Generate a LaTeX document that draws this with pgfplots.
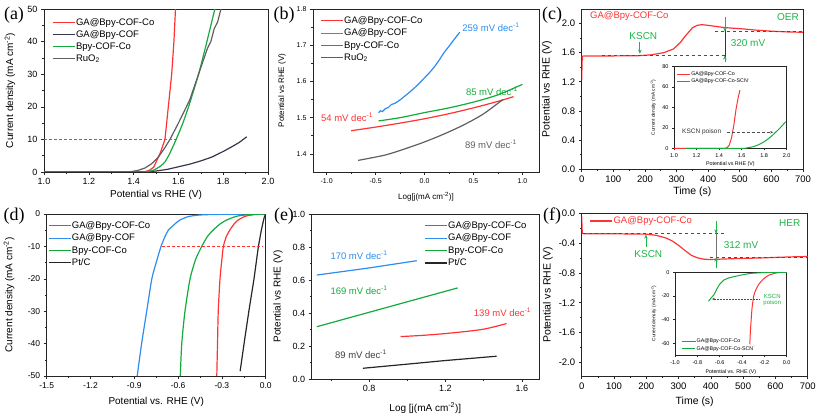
\documentclass[border=0pt]{standalone}
\usepackage{pgfplots}
\pgfplotsset{compat=1.18}
\usepackage{fontspec}
\setmainfont{Liberation Sans}
\newfontfamily\seriffont{Liberation Serif}
\usetikzlibrary{arrows.meta}
\definecolor{cred}{RGB}{255,51,51}
\definecolor{cblue}{RGB}{45,140,240}
\definecolor{cgreen}{RGB}{20,170,60}
\definecolor{cgray}{RGB}{95,95,95}
\definecolor{cnavy}{RGB}{55,55,75}
\definecolor{tgreen}{RGB}{30,180,70}
\newcommand{\fs}[1]{\fontsize{#1}{#1}\selectfont}
\pgfplotsset{
  base/.style={
    scale only axis, anchor=south west,
    axis line style={line width=0.6pt, black!85},
    tick align=outside, xtick pos=bottom, ytick pos=left,
    major tick length=3pt, minor tick length=1.8pt,
    every tick/.style={black!85, line width=0.6pt},
    /pgf/number format/assume math mode=true,
    legend cell align=left,
    legend image code/.code={\draw[mark repeat=2,mark phase=2,##1] plot coordinates {(0pt,0pt)(11pt,0pt)(22pt,0pt)};},
  },
  smallleg/.style={
    legend image code/.code={\draw[mark repeat=2,mark phase=2,##1] plot coordinates {(0pt,0pt)(6.5pt,0pt)(13pt,0pt)};},
  },
  leg/.style={legend style={draw=none, fill=none, inner sep=0pt, row sep=#1,
     nodes={inner sep=0.8pt}}},
  dec1/.style={/pgf/number format/.cd, fixed, fixed zerofill, precision=1},
  dec0/.style={/pgf/number format/.cd, fixed, precision=0},
}
\begin{document}
\begin{tikzpicture}
\useasboundingbox (0,0) rectangle (817pt,418pt);

% ---------------- (a)
\begin{axis}[base, at={(44pt,246pt)}, width=224pt, height=163pt,
  xmin=1, xmax=2, ymin=0, ymax=50,
  xtick={1.0,1.2,1.4,1.6,1.8,2.0}, minor x tick num=1,
  ytick={0,10,20,30,40,50}, minor y tick num=1,
  xticklabel style={font=\fs{9}, dec1}, yticklabel style={font=\fs{9}, dec0},
  xlabel={Potential vs RHE (V)}, ylabel={Current density (mA cm\textsuperscript{-2})},
  xlabel style={at={(axis description cs:0.5,-0.141)}, anchor=center, font=\fs{10}},
  ylabel style={at={(axis description cs:-0.152,0.5)}, anchor=center, font=\fs{10}},
  leg=2.3pt, legend style={at={(axis description cs:0.035,0.95)}, anchor=north west, font=\fs{9.5}}]
\addplot[cred, line width=1.2pt] coordinates {(1.0,0)(1.40,0)(1.45,0.1)(1.47,0.5)(1.49,1.5)(1.50,3)(1.52,6)(1.54,10)(1.555,20)(1.57,30)(1.58,40)(1.587,50)};
\addlegendentry{GA@Bpy-COF-Co}
\addplot[cnavy, line width=1.2pt] coordinates {(1.0,0)(1.45,0)(1.50,0.3)(1.55,0.8)(1.60,1.6)(1.65,2.4)(1.70,3.4)(1.75,4.6)(1.80,6.3)(1.84,7.8)(1.87,9)(1.905,10.8)};
\addlegendentry{GA@Bpy-COF}
\addplot[cgreen, line width=1.2pt, smooth, tension=0.4] coordinates {(1.0,0)(1.40,0)(1.46,0.1)(1.49,0.6)(1.52,1.8)(1.54,3.1)(1.56,5.5)(1.59,10)(1.62,15)(1.65,21)(1.69,30)(1.72,38)(1.745,45)(1.763,50)};
\addlegendentry{Bpy-COF-Co}
\addplot[cgray, line width=1.2pt] coordinates {(1.0,0)(1.38,0)(1.42,0.5)(1.45,1.2)(1.48,2.5)(1.51,4.5)(1.54,7.5)(1.5625,10)(1.60,15)(1.65,22)(1.69,30)(1.73,38)(1.745,40)(1.76,44)(1.775,46)(1.79,50)};
\addlegendentry{RuO\textsubscript{2}}
\addplot[cred, densely dashed, line width=0.8pt, forget plot] coordinates {(1.0,10)(1.592,10)};
\end{axis}

% ---------------- (b)
\begin{axis}[base, at={(313pt,246pt)}, width=226pt, height=163pt,
  xmin=-1.14, xmax=1.17, ymin=1.35, ymax=1.8,
  xtick={-1,-0.5,0,0.5,1}, minor x tick num=1,
  ytick={1.4,1.5,1.6,1.7,1.8}, minor y tick num=1,
  xticklabel style={font=\fs{7}, dec1}, yticklabel style={font=\fs{7}, dec1},
  xlabel={Log[j(mA cm\textsuperscript{-2})]}, ylabel={Potential vs RHE (V)},
  xlabel style={at={(axis description cs:0.5,-0.153)}, anchor=center, font=\fs{8}},
  ylabel style={at={(axis description cs:-0.137,0.5)}, anchor=center, font=\fs{8}},
  leg=2.5pt, legend style={at={(axis description cs:0.031,0.96)}, anchor=north west, font=\fs{9.5}}]
\addplot[cred, line width=1.2pt, smooth] coordinates {(-0.75,1.464)(-0.5,1.474)(-0.25,1.485)(0,1.497)(0.25,1.511)(0.5,1.527)(0.75,1.545)(0.91,1.558)};
\addlegendentry{GA@Bpy-COF-Co}
\addplot[cblue, line width=1.2pt] coordinates {(-0.47,1.514)(-0.45,1.519)(-0.43,1.517)(-0.4,1.525)(-0.37,1.528)(-0.34,1.536)(-0.3,1.54)(-0.25,1.549)(-0.2,1.56)(-0.15,1.571)(-0.1,1.583)(-0.05,1.596)(0,1.61)(0.05,1.624)(0.1,1.64)(0.15,1.659)(0.2,1.68)(0.25,1.697)(0.3,1.715)(0.36,1.736)};
\addlegendentry{GA@Bpy-COF}
\addplot[cgreen, line width=1.2pt, smooth] coordinates {(-0.47,1.491)(-0.25,1.5)(0,1.514)(0.25,1.527)(0.5,1.543)(0.75,1.563)(1.0,1.592)};
\addlegendentry{Bpy-COF-Co}
\addplot[cgray, line width=1.2pt, smooth] coordinates {(-0.68,1.382)(-0.4,1.397)(-0.2,1.414)(0,1.433)(0.2,1.455)(0.4,1.48)(0.6,1.51)(0.8,1.55)};
\addlegendentry{RuO\textsubscript{2}}
\node[cblue, font=\fs{9.5}] at (axis cs:0.679,1.750) {259 mV dec\textsuperscript{-1}};
\node[cgreen, font=\fs{9.5}] at (axis cs:0.689,1.574) {85 mV dec\textsuperscript{-1}};
\node[cred, font=\fs{9.5}] at (axis cs:-0.792,1.502) {54 mV dec\textsuperscript{-1}};
\node[cgray, font=\fs{9.5}] at (axis cs:0.679,1.427) {89 mV dec\textsuperscript{-1}};
\end{axis}

% ---------------- (c)
\begin{axis}[base, at={(581.7pt,249pt)}, width=221.3pt, height=160pt,
  xmin=0, xmax=700, ymin=0, ymax=2.2,
  xtick={0,100,200,300,400,500,600,700}, minor x tick num=1,
  ytick={0,0.4,0.8,1.2,1.6,2.0}, minor y tick num=1,
  xticklabel style={font=\fs{9.5}, dec0}, yticklabel style={font=\fs{9.5}, dec1},
  xlabel={Time (s)}, ylabel={Potential vs RHE (V)},
  xlabel style={at={(axis description cs:0.5,-0.144)}, anchor=center, font=\fs{10.5}},
  ylabel style={at={(axis description cs:-0.157,0.5)}, anchor=center, font=\fs{10.5}}]
\addplot[cred, line width=1.2pt] coordinates {(0,1.22)(1,1.45)(2,1.55)(10,1.555)(100,1.555)(180,1.558)(220,1.57)(260,1.6)(290,1.65)(310,1.73)(330,1.84)(350,1.94)(365,1.975)(380,1.985)(400,1.975)(450,1.945)(500,1.93)(550,1.91)(600,1.895)(650,1.885)(700,1.88)};
\addplot[black!70, dashed, line width=1.1pt] coordinates {(63,1.558)(458,1.558)};
\addplot[black!70, dashed, line width=1.1pt] coordinates {(422,1.888)(700,1.888)};
\draw[black!80, line width=0.8pt] (axis cs:453,2.09) -- (axis cs:453,1.476);
\draw[tgreen, line width=0.8pt, -{Stealth[length=4pt,width=3.5pt]}] (axis cs:453,2.09) -- (axis cs:453,1.89);
\draw[tgreen, line width=0.8pt, -{Stealth[length=4pt,width=3.5pt]}] (axis cs:453,1.476) -- (axis cs:453,1.56);
\draw[tgreen, line width=0.8pt, -{Stealth[length=4pt,width=3.5pt]}] (axis cs:184,1.751) -- (axis cs:184,1.585);
\node[cred, font=\fs{9.5}, anchor=west] at (axis cs:15.8,2.104) {GA@Bpy-COF-Co};
\node[tgreen, font=\fs{10}] at (axis cs:652.6,2.087) {OER};
\node[tgreen, font=\fs{10}] at (axis cs:194.9,1.829) {KSCN};
\node[tgreen, font=\fs{10}] at (axis cs:526,1.733) {320 mV};
\end{axis}

% inset (c)
\begin{axis}[base, smallleg, at={(674pt,269.7pt)}, width=112.7pt, height=81.6pt,
  axis background/.style={fill=white},
  xmin=1, xmax=2, ymin=0, ymax=80,
  xtick={1.0,1.2,1.4,1.6,1.8,2.0}, ytick={0,20,40,60,80},
  major tick length=2pt,
  xticklabel style={font=\fs{5.5}, dec1}, yticklabel style={font=\fs{5.5}, dec0},
  xlabel={Potential vs RHE (V)}, ylabel={Current density (mA cm\textsuperscript{-2})},
  xlabel style={at={(axis description cs:0.5,-0.19)}, anchor=center, font=\fs{5.3}},
  ylabel style={at={(axis description cs:-0.185,0.5)}, anchor=center, font=\fs{4.8}},
  leg=0.6pt, legend style={at={(axis description cs:0.02,0.955)}, anchor=north west, font=\fs{5.3}}]
\addplot[cred, line width=1pt] coordinates {(1.0,0)(1.45,0)(1.47,0.5)(1.49,3)(1.51,10)(1.53,22)(1.55,38)(1.57,50)(1.585,57)};
\addlegendentry{GA@Bpy-COF-Co}
\addplot[cgreen, line width=1pt, smooth] coordinates {(1.1,0)(1.6,0)(1.65,0.5)(1.7,1.5)(1.75,3.5)(1.8,6.5)(1.85,10.5)(1.9,15.5)(1.95,21)(1.99,26)};
\addlegendentry{GA@Bpy-COF-Co-SCN\textsuperscript{-}}
\draw[black!70, densely dashed, line width=0.5pt, -{Stealth[length=3pt,width=2.5pt]}] (axis cs:1.47,15.7) -- (axis cs:1.88,15.7);
\node[black!80, font=\fs{6.5}] at (axis cs:1.246,16.3) {KSCN poison};
\end{axis}

% ---------------- (d)
\begin{axis}[base, at={(46.7pt,42pt)}, width=219pt, height=162pt,
  xmin=-1.5, xmax=0, ymin=-50, ymax=0,
  xtick={-1.5,-1.2,-0.9,-0.6,-0.3,0.0}, minor x tick num=1,
  ytick={-50,-40,-30,-20,-10,0}, minor y tick num=1,
  xticklabel style={font=\fs{8.5}, dec1}, yticklabel style={font=\fs{8.5}, dec0},
  xlabel={Potential vs. RHE (V)}, ylabel={Current density (mA cm\textsuperscript{-2})},
  xlabel style={at={(axis description cs:0.5,-0.16)}, anchor=center, font=\fs{10}},
  ylabel style={at={(axis description cs:-0.172,0.5)}, anchor=center, font=\fs{10}},
  leg=2.5pt, legend style={at={(axis description cs:0.005,0.96)}, anchor=north west, font=\fs{9.5}}]
\addplot[cred, line width=1.2pt, smooth, tension=0.4] coordinates {(-0.335,-50)(-0.33,-40)(-0.325,-30)(-0.313,-20)(-0.30,-14)(-0.29,-10)(-0.27,-7)(-0.245,-4.9)(-0.215,-3)(-0.188,-1.85)(-0.14,-0.7)(-0.08,-0.2)(0,0)};
\addlegendentry{GA@Bpy-COF-Co}
\addplot[cblue, line width=1.2pt, smooth, tension=0.4] coordinates {(-0.88,-50)(-0.85,-40)(-0.815,-30)(-0.78,-20)(-0.75,-15)(-0.717,-10)(-0.69,-7)(-0.667,-5)(-0.62,-3)(-0.587,-1.85)(-0.53,-0.8)(-0.45,-0.3)(-0.3,-0.1)(0,0)};
\addlegendentry{GA@Bpy-COF}
\addplot[cgreen, line width=1.2pt, smooth, tension=0.4] coordinates {(-0.585,-50)(-0.575,-40)(-0.553,-30)(-0.518,-20)(-0.48,-14)(-0.438,-10)(-0.40,-7)(-0.359,-4.9)(-0.31,-3)(-0.267,-1.85)(-0.2,-0.7)(-0.12,-0.2)(0,0)};
\addlegendentry{Bpy-COF-Co}
\addplot[black!85, line width=1.2pt] coordinates {(-0.175,-48.5)(-0.145,-39)(-0.114,-29.6)(-0.08,-20)(-0.05,-10)(-0.03,-5)(-0.01,-1)(0,0)};
\addlegendentry{Pt/C}
\addplot[cred, densely dashed, line width=0.8pt, forget plot] coordinates {(-0.712,-10)(-0.016,-10)};
\end{axis}

% ---------------- (e)
\begin{axis}[base, at={(311.7pt,39pt)}, width=227.3pt, height=165pt,
  xmin=0.5, xmax=1.69, ymin=0, ymax=1.0,
  xtick={0.8,1.2,1.6}, minor xtick={0.6,1.0,1.4},
  ytick={0,0.2,0.4,0.6,0.8,1.0}, minor y tick num=1,
  xticklabel style={font=\fs{9}, dec1}, yticklabel style={font=\fs{9}, dec1},
  xlabel={Log [j(mA cm\textsuperscript{-2})]}, ylabel={Potential vs RHE (V)},
  xlabel style={at={(axis description cs:0.5,-0.176)}, anchor=center, font=\fs{10}},
  ylabel style={at={(axis description cs:-0.148,0.5)}, anchor=center, font=\fs{10}},
  leg=2.5pt, legend style={at={(axis description cs:0.494,0.96)}, anchor=north west, font=\fs{9.5}}]
\addplot[cred, line width=1.2pt, smooth] coordinates {(0.965,0.257)(1.1,0.266)(1.25,0.281)(1.4,0.302)(1.52,0.336)};
\addlegendentry{GA@Bpy-COF-Co}
\addplot[cblue, line width=1.2pt] coordinates {(0.527,0.630)(0.8,0.673)(1.05,0.717)};
\addlegendentry{GA@Bpy-COF}
\addplot[cgreen, line width=1.2pt] coordinates {(0.527,0.317)(0.9,0.436)(1.264,0.552)};
\addlegendentry{Bpy-COF-Co}
\addplot[black!85, line width=1.2pt] coordinates {(0.768,0.065)(1.0,0.09)(1.2,0.112)(1.468,0.138)};
\addlegendentry{Pt/C}
\node[cblue, font=\fs{9.5}] at (axis cs:0.748,0.752) {170 mV dec\textsuperscript{-1}};
\node[cgreen, font=\fs{9.5}] at (axis cs:0.748,0.539) {169 mV dec\textsuperscript{-1}};
\node[cred, font=\fs{9.5}] at (axis cs:1.499,0.404) {139 mV dec\textsuperscript{-1}};
\node[black!75, font=\fs{9.5}] at (axis cs:0.758,0.152) {89 mV dec\textsuperscript{-1}};
\end{axis}

% ---------------- (f)
\begin{axis}[base, at={(581.7pt,42pt)}, width=226pt, height=162.7pt,
  xmin=0, xmax=700, ymin=-2.184, ymax=0,
  xtick={0,100,200,300,400,500,600,700}, minor x tick num=1,
  ytick={-2.0,-1.6,-1.2,-0.8,-0.4,0.0}, minor y tick num=1,
  xticklabel style={font=\fs{9.5}, dec0}, yticklabel style={font=\fs{9.5}, dec1},
  xlabel={Time (s)}, ylabel={Potential vs RHE (V)},
  xlabel style={at={(axis description cs:0.5,-0.16)}, anchor=center, font=\fs{10.5}},
  ylabel style={at={(axis description cs:-0.149,0.5)}, anchor=center, font=\fs{10.5}},
  leg=1pt, legend style={at={(axis description cs:0.034,0.985)}, anchor=north west, font=\fs{9.5}}]
\addplot[cred, line width=1.2pt] coordinates {(0,-0.04)(1,-0.2)(2,-0.27)(10,-0.275)(100,-0.275)(200,-0.28)(230,-0.295)(260,-0.33)(280,-0.37)(300,-0.43)(320,-0.5)(340,-0.565)(360,-0.6)(380,-0.617)(400,-0.62)(450,-0.612)(500,-0.605)(550,-0.6)(600,-0.592)(650,-0.585)(700,-0.58)};
\addlegendentry{\textcolor{cred}{GA@Bpy-COF-Co}}
\addplot[black!70, dashed, line width=1.1pt, forget plot] coordinates {(5,-0.275)(444,-0.275)};
\addplot[black!70, dashed, line width=1.1pt, forget plot] coordinates {(397,-0.59)(700,-0.59)};
\draw[black!55, line width=0.8pt] (axis cs:416,-0.103) -- (axis cs:416,-0.738);
\draw[tgreen, line width=0.8pt, -{Stealth[length=4pt,width=3.5pt]}] (axis cs:416,-0.103) -- (axis cs:416,-0.27);
\draw[tgreen, line width=0.8pt, -{Stealth[length=4pt,width=3.5pt]}] (axis cs:416,-0.738) -- (axis cs:416,-0.595);
\draw[tgreen, line width=0.8pt, -{Stealth[length=4pt,width=3.5pt]}] (axis cs:199,-0.448) -- (axis cs:199,-0.285);
\node[tgreen, font=\fs{10}] at (axis cs:644.5,-0.134) {HER};
\node[tgreen, font=\fs{10}] at (axis cs:206.3,-0.55) {KSCN};
\node[tgreen, font=\fs{10}] at (axis cs:493.4,-0.426) {312 mV};
\end{axis}

% inset (f)
\begin{axis}[base, smallleg, at={(675pt,63pt)}, width=111.7pt, height=82.7pt,
  axis background/.style={fill=white},
  xmin=-1, xmax=0, ymin=-70, ymax=0,
  xtick={-1.0,-0.8,-0.6,-0.4,-0.2,0.0}, ytick={-60,-40,-20,0},
  major tick length=2pt,
  xticklabel style={font=\fs{5.5}, dec1}, yticklabel style={font=\fs{5.5}, dec0},
  xlabel={Potential vs. RHE (V)}, ylabel={Current density (mA cm\textsuperscript{-2})},
  xlabel style={at={(axis description cs:0.5,-0.21)}, anchor=center, font=\fs{5.3}},
  ylabel style={at={(axis description cs:-0.19,0.5)}, anchor=center, font=\fs{4.8}},
  leg=0.6pt, legend style={at={(axis description cs:0.06,0.21)}, anchor=north west, font=\fs{5.3}}]
\addplot[cred, line width=1pt, smooth, tension=0.4] coordinates {(-0.33,-61)(-0.325,-50)(-0.318,-40)(-0.31,-30)(-0.295,-20)(-0.277,-15)(-0.255,-11)(-0.232,-8)(-0.2,-5)(-0.157,-2.3)(-0.1,-0.7)(-0.05,0)(0,0)};
\addlegendentry{GA@Bpy-COF-Co}
\addplot[cgreen, line width=1pt] coordinates {(-0.70,-24.5)(-0.68,-22)(-0.654,-19.4)(-0.635,-16)(-0.623,-13.7)(-0.6,-10)(-0.563,-6.5)(-0.52,-4.8)(-0.473,-3.7)(-0.4,-2.2)(-0.322,-0.9)(-0.2,-0.2)(0,0)};
\addlegendentry{GA@Bpy-COF-Co-SCN\textsuperscript{-}}
\draw[black!70, densely dotted, line width=0.5pt, -{Stealth[length=3pt,width=2.5pt]}] (axis cs:-0.247,-22.6) -- (axis cs:-0.669,-22.6);
\node[tgreen, font=\fs{6}, align=center] at (axis cs:-0.129,-23.2) {KSCN\\poison};
\end{axis}

% panel letters
\node[font=\seriffont\fs{18}] at (14pt,403pt) {(a)};
\node[font=\seriffont\fs{18}] at (284pt,403pt) {(b)};
\node[font=\seriffont\fs{18}] at (552pt,403pt) {(c)};
\node[font=\seriffont\fs{18}] at (14pt,202pt) {(d)};
\node[font=\seriffont\fs{18}] at (284pt,202pt) {(e)};
\node[font=\seriffont\fs{18}] at (552pt,202pt) {(f)};
\end{tikzpicture}
\end{document}
